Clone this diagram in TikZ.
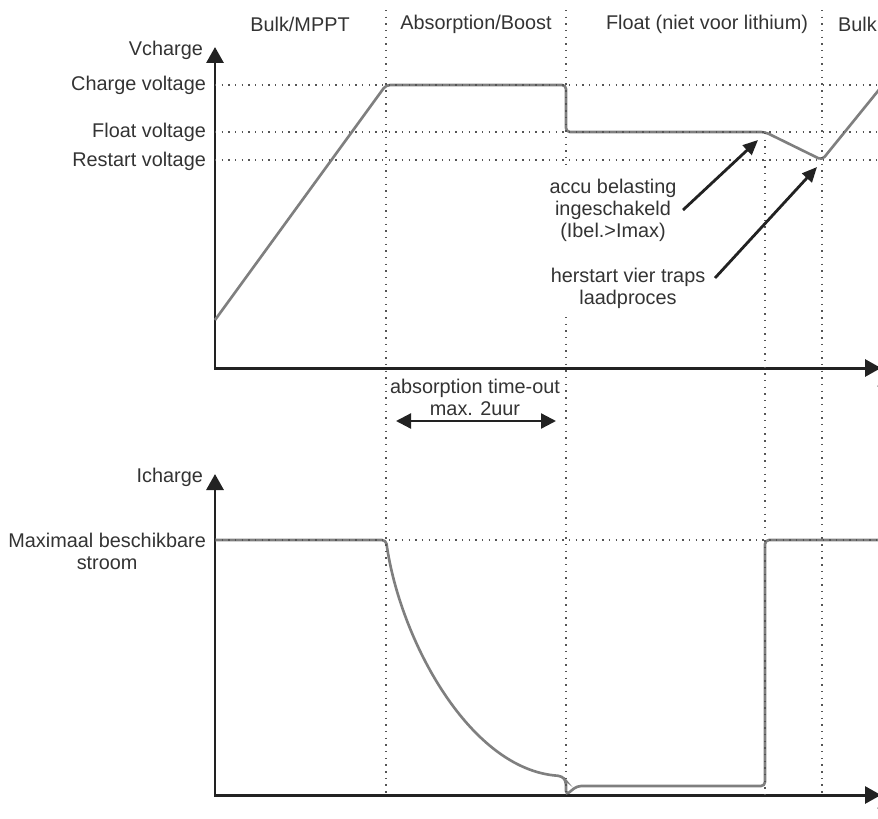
\documentclass[tikz,border=0pt]{standalone}
\usepackage{fontspec}
\setmainfont{Liberation Sans}
\usetikzlibrary{arrows.meta}
\definecolor{axisc}{HTML}{222222}
\definecolor{curvec}{HTML}{7F7F7F}
\definecolor{gridc}{HTML}{555555}
\definecolor{txtc}{HTML}{333333}

\begin{document}
\begin{tikzpicture}[x={(0.02cm,0)}, y={(0,-0.02cm)}, font=\fontsize{11.3}{12.6}\selectfont, text=txtc,
axis/.style = {draw=axisc, line width=1.7pt, {Triangle[length=0.32cm,width=0.34cm]}-{Triangle[length=0.32cm,width=0.34cm]}},
curve/.style = {draw=curvec, line width=1.5pt, rounded corners=0.08cm},
grid/.style = {draw=gridc, line width=0.9pt, dash pattern=on 0.8pt off 3pt},
note/.style = {draw=axisc, line width=1.6pt, -{Triangle[length=0.3cm,width=0.26cm]}},
span/.style = {draw=axisc, line width=1.3pt, {Triangle[length=0.3cm,width=0.3cm]}-{Triangle[length=0.3cm,width=0.3cm]}},
lbl/.style = {inner sep=1pt, align=center},
]
\useasboundingbox (0,0) rectangle (878,818);

% axes
\draw[axis] (215,47) -- (215,368) -- (881,368);
\draw[axis] (215,474) -- (215,795) -- (881,795);

% charge curves
\draw[curve] (215,320) -- (386,85) -- (566,85) -- (566,132) -- (765,132) -- (822,160) -- (882,86);
\draw[curve] (215,540) -- (386,540) .. controls (400,640) and (470,770) .. (562,776)
  -- (566,781) -- (566,795) -- (577,786) -- (765,786) -- (765,540) -- (882,540);

% grid
\foreach \y in {85,132,160} \draw[grid] (215,\y) -- (878,\y);
\draw[grid] (215,540) -- (878,540);
\draw[grid] (386,10) -- (386,795);
\draw[grid] (566,10) -- (566,170);
\draw[grid] (566,317) -- (566,795);
\draw[grid] (765,133) -- (765,795);
\draw[grid] (822,10) -- (822,795);

% phases
\node[lbl] (bulk) at (300,24) {Bulk/MPPT};
\node[lbl] (absorb) at (476,24) {Absorption/Boost};
\node[lbl] (float) at (707,24) {Float (niet voor lithium)};
\node[lbl, anchor=west] (rebulk) at (836,24) {Bulk};

% axis labels
\node[lbl, anchor=east] (vcharge) at (205,50) {Vcharge};
\node[lbl, anchor=east] (chargev) at (208,85) {Charge voltage};
\node[lbl, anchor=east] (floatv) at (208,132) {Float voltage};
\node[lbl, anchor=east] (restartv) at (208,161) {Restart voltage};
\node[lbl, anchor=east] (icharge) at (205,477) {Icharge};
\node[lbl, anchor=east] (imax) at (208,551) {Maximaal beschikbare\\stroom};
\node[lbl] (t1) at (880,390) {t};
\node[lbl] (t2) at (880,812) {t};

% time-out
\node[lbl] (tout) at (475,397) {absorption time-out\\max. 2uur};
\coordinate (toutl) at (396,421);
\coordinate (toutr) at (556,421);
\draw[span] (toutl) -- (toutr);

% notes
\node[lbl] (accu) at (613,210) {accu belasting\\ingeschakeld\\(Ibel.>Imax)};
\node[lbl] (herstart) at (628,288) {herstart vier traps\\laadproces};
\coordinate (accutail) at (683,210);
\coordinate (loadon) at (758,140);
\coordinate (hersttail) at (715,278);
\coordinate (restartpt) at (817,167);
\draw[note] (accutail) -- (loadon);
\draw[note] (hersttail) -- (restartpt);
\end{tikzpicture}
\end{document}
